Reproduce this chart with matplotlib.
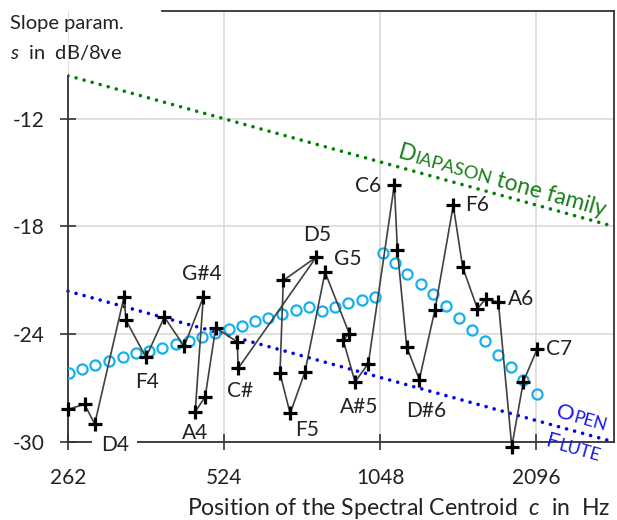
import numpy as np
import matplotlib
matplotlib.use('Agg')
import matplotlib.pyplot as plt

plt.rcParams['font.family'] = ['Lato', 'DejaVu Sans']
plt.rcParams['mathtext.fontset'] = 'custom'
plt.rcParams['mathtext.rm'] = 'Lato'
plt.rcParams['mathtext.it'] = 'Lato:italic'

# ---- data ----
notes = ['C4', 'C#4', 'D4', 'D#4', 'E4', 'F4', 'F#4', 'G4', 'G#4', 'A4', 'A#4', 'B4',
         'C5', 'C#5', 'D5', 'D#5', 'E5', 'F5', 'F#5', 'G5', 'G#5', 'A5', 'A#5', 'B5',
         'C6', 'C#6', 'D6', 'D#6', 'E6', 'F6', 'F#6', 'G6', 'G#6', 'A6', 'A#6', 'B6', 'C7']
note_centroid = [262, 282, 295, 336, 339, 370.5, 402, 439, 478, 461, 482, 505,
                 556, 558, 789, 682, 672, 703, 751, 821, 914, 890, 938, 995,
                 1117, 1132, 1180, 1248, 1338, 1451, 1513, 1615, 1675, 1773, 1882, 1981, 2108]
note_slope = [-28.18, -27.9, -29.0, -21.93, -23.22, -25.29, -23.04, -24.67, -21.93, -28.32, -27.48, -23.63,
              -24.43, -25.9, -19.71, -21.0, -26.18, -28.41, -26.09, -20.54, -23.96, -24.33, -26.65, -25.63,
              -15.67, -19.29, -24.7, -26.52, -22.63, -16.83, -20.26, -22.57, -22.05, -22.21, -30.26, -26.65, -24.8]

model_centroid = [263, 279, 296, 315, 334, 354, 375.5, 398, 423, 449, 475, 503.5,
                  535, 567, 601, 638, 677, 722, 765.5, 809, 858, 910, 966, 1027,
                  1061, 1120, 1183, 1256, 1328, 1405, 1491, 1577, 1671, 1770, 1873, 1981, 2103]
model_slope = [-26.17, -25.94, -25.72, -25.48, -25.25, -25.06, -24.94, -24.79, -24.57, -24.37, -24.14, -23.93,
               -23.69, -23.52, -23.28, -23.08, -22.89, -22.67, -22.48, -22.68, -22.5, -22.26, -22.11, -21.92,
               -19.48, -20.04, -20.63, -21.22, -21.78, -22.43, -23.09, -23.74, -24.39, -25.17, -25.85, -26.56, -27.33]

diapason_x = [262, 2964]
diapason_y = [-9.6, -18.0]
flute_x = [262, 2964]
flute_y = [-21.6, -30.0]

x_ticks = [262, 524, 1048, 2096]
y_ticks = [-30, -24, -18, -12]

label_notes = ['D4', 'F4', 'G#4', 'A4', 'C#5', 'F5', 'D5', 'G5', 'A#5', 'C6', 'D#6', 'F6', 'A6', 'C7']
label_texts = ['D4', 'F4', 'G#4', 'A4', 'C#', 'F5', 'D5', 'G5', 'A#5', 'C6', 'D#6', 'F6', 'A6', 'C7']
# offsets in pixels (dx right, dy down) of label centre from marker
label_offsets = [(20, 21), (1, 25), (-2, -23), (0, 21), (2, 23), (17, 17), (1, -22), (23, -13),
                 (4, 25), (-26, 1), (7, 31), (24, 0), (23, -3), (22, 0)]

# ---- figure ----
DPI = 100
W, H = 617, 520
fig = plt.figure(figsize=(W/DPI, H/DPI), dpi=DPI)
ax = fig.add_axes([68/W, 1-442/H, (614-68)/W, (442-11)/H])
ax.set_xscale('log', base=2)
ax.set_xlim(262, 2964)
ax.set_ylim(-30, -6)

ax.set_xticks(x_ticks)
ax.set_xticklabels([str(v) for v in x_ticks])
ax.xaxis.set_minor_locator(matplotlib.ticker.NullLocator())
ax.set_yticks(y_ticks)
ax.set_yticklabels([str(v) for v in y_ticks])

ax.grid(True, color='#d9d9d9', lw=1.2, zorder=0)
ax.set_axisbelow(True)
ax.tick_params(axis='both', direction='inout', length=12, width=1.2, color='#333333',
               labelsize=15, labelcolor='#222222')
ax.tick_params(axis='x', pad=13)
ax.tick_params(axis='y', pad=11)
for s in ax.spines.values():
    s.set_color('#333333')
    s.set_linewidth(1.3)
ax.spines['left'].set_bounds(-30, -9.6)
ax.spines['top'].set_bounds(398, 2964)

# reference lines
ax.plot(diapason_x, diapason_y, color='#008000', lw=2.6, linestyle=(0, (0.01, 2.3)),
        dash_capstyle='round', zorder=2)
ax.plot(flute_x, flute_y, color='#0000ee', lw=2.6, linestyle=(0, (0.01, 2.3)),
        dash_capstyle='round', zorder=2, clip_on=False)

# model circles
ax.plot(model_centroid, model_slope, 'o', ms=7.3, mfc='none', mec='#18b0ea', mew=1.6, zorder=3)

# measured
ax.plot(note_centroid, note_slope, '-', color='#404040', lw=1.2, zorder=4, clip_on=False)
ax.plot(note_centroid, note_slope, '+', color='black', ms=10.5, mew=2.3, zorder=5, clip_on=False)

px2pt = 72 / DPI
for n, t, (dx, dy) in zip(label_notes, label_texts, label_offsets):
    i = notes.index(n)
    kw = {}
    if t == 'D4':
        kw['bbox'] = dict(fc='white', ec='none', pad=6)
    ax.annotate(t, (note_centroid[i], note_slope[i]), xytext=(dx*px2pt, -dy*px2pt),
                textcoords='offset points', ha='center', va='center', fontsize=15,
                color='#222222', zorder=3.5, annotation_clip=False, **kw)

# small-caps rotated text
renderer = fig.canvas.get_renderer()

def width_pt(s, size):
    t = fig.text(0, 0, s, fontsize=size)
    w = t.get_window_extent(renderer).width
    t.remove()
    return w * px2pt

def smallcaps(pieces, anchor, angle, color):
    c, s_ = np.cos(np.radians(angle)), np.sin(np.radians(angle))
    off = 0.0
    for txt, size in pieces:
        if txt.strip():
            ax.annotate(txt, anchor, xytext=(off*c, off*s_), textcoords='offset points',
                        rotation=angle, rotation_mode='anchor', ha='left', va='baseline',
                        fontsize=size, color=color, zorder=6, annotation_clip=False)
            off += width_pt(txt, size)
        else:
            off += size * 0.25

ang = -15.6
smallcaps([('D', 16.5), ('IAPASON', 13.2), (' ', 16), ('tone family', 16.5)], (1128, -14.2), ang, '#1a7f1a')
smallcaps([('O', 16), ('PEN', 12.6)], (2285, -28.6), ang, '#1a1aee')
smallcaps([('F', 16), ('LUTE', 12.6)], (2180, -30.25), ang, '#1a1aee')

fig.text(10/W, 1-29/H, 'Slope param.', fontsize=14.5, color='#222222', va='baseline', ha='left')
fig.text(10/W, 1-58.5/H, r'$s$  in  dB/8ve', fontsize=14.5, color='#222222', va='baseline', ha='left')
fig.text(399/W, 1-515/H, r'Position of the Spectral Centroid  $c$  in  Hz', fontsize=16.6,
         color='#222222', va='baseline', ha='center')

fig.savefig('out.png', dpi=DPI)
